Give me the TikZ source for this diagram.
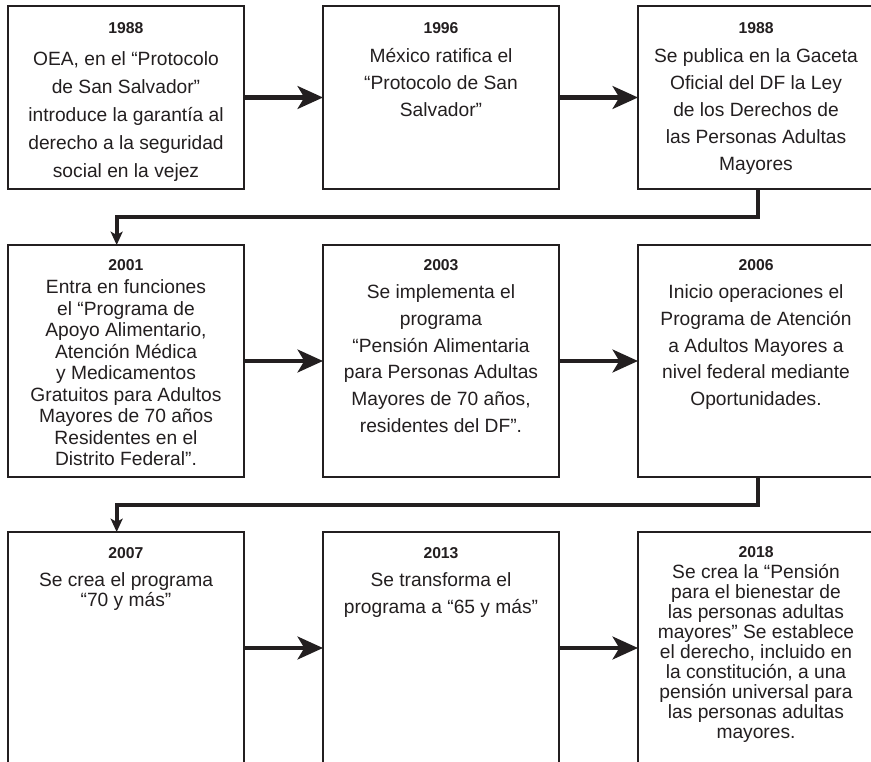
\documentclass[tikz,border=0pt]{standalone}
\usepackage{fontspec}
\setmainfont{Liberation Sans}
\usetikzlibrary{arrows.meta,positioning}
\definecolor{inkGray}{RGB}{35,31,32}
\setlength{\lineskiplimit}{-20pt}
\tikzset{
  evbox/.style={draw=inkGray,line width=2.2pt,outer sep=0pt,inner sep=0pt,
                minimum width=177pt,minimum height=#1},
  evtext/.style={anchor=north,align=center,inner sep=0pt,text=inkGray,
                 font=\fontsize{14.4pt}{#1}\selectfont},
  arr/.style={-{Stealth[length=19pt,width=17pt,inset=5pt]},line width=3.4pt,inkGray},
  link/.style={-{Stealth[length=10pt,width=9pt,inset=2.5pt]},line width=3.2pt,inkGray},
}
\newcommand{\evyear}[1]{{\fontsize{11.8pt}{12pt}\selectfont\bfseries #1}}
\begin{document}
\begin{tikzpicture}
  \fill[white] (-6pt,4.5pt) rectangle (647.25pt,-567pt);
  \path[use as bounding box,clip] (-6pt,4.5pt) rectangle (647.25pt,-567pt);
  % boxes
  \node[evbox=137.25pt,anchor=north west] (b1) at (0,0) {};
  \node[evbox=137.25pt,right=59.25pt of b1] (b2) {};
  \node[evbox=137.25pt,right=59.25pt of b2] (b3) {};
  \node[evbox=174pt,below=42pt of b1]       (b4) {};
  \node[evbox=174pt,right=59.25pt of b4]    (b5) {};
  \node[evbox=174pt,right=59.25pt of b5]    (b6) {};
  \node[evbox=174pt,below=41.25pt of b4]    (b7) {};
  \node[evbox=174pt,right=59.25pt of b7]    (b8) {};
  \node[evbox=174pt,right=59.25pt of b8]    (b9) {};
  % texts
  \node[evtext=21pt,below=12.4pt of b1.north] (t1) {\evyear{1988}\\[2.5pt]
    OEA, en el “Protocolo\\ de San Salvador”\\ introduce la garantía al\\
    derecho a la seguridad\\ social en la vejez};
  \node[evtext=20.25pt,below=12.4pt of b2.north] (t2) {\evyear{1996}\\[1pt]
    México ratifica el\\ “Protocolo de San\\ Salvador”};
  \node[evtext=20.25pt,below=12.4pt of b3.north] (t3) {\evyear{1988}\\[1pt]
    Se publica en la Gaceta\\ Oficial del DF la Ley\\ de los Derechos de\\
    las Personas Adultas\\ Mayores};
  \node[evtext=16.1pt,below=10.9pt of b4.north] (t4) {\evyear{2001}\\[1.2pt]
    Entra en funciones\\ el “Programa de\\ Apoyo Alimentario,\\ Atención Médica\\
    y Medicamentos\\ Gratuitos para Adultos\\ Mayores de 70 años\\
    Residentes en el\\ Distrito Federal”.};
  \node[evtext=20pt,below=10.9pt of b5.north] (t5) {\evyear{2003}\\[1pt]
    Se implementa el\\ programa\\ “Pensión Alimentaria\\ para Personas Adultas\\
    Mayores de 70 años,\\ residentes del DF”.};
  \node[evtext=20pt,below=10.9pt of b6.north] (t6) {\evyear{2006}\\[1pt]
    Inicio operaciones el\\ Programa de Atención\\ a Adultos Mayores a\\
    nivel federal mediante\\ Oportunidades.};
  \node[evtext=15pt,below=11.6pt of b7.north] (t7) {\evyear{2007}\\[6pt]
    Se crea el programa\\ “70 y más”};
  \node[evtext=20pt,below=11.6pt of b8.north] (t8) {\evyear{2013}\\[1pt]
    Se transforma el\\ programa a “65 y más”};
  \node[evtext=15pt,below=10.6pt of b9.north] (t9) {\evyear{2018}\\[1pt]
    Se crea la “Pensión\\ para el bienestar de\\ las personas adultas\\
    mayores” Se establece\\ el derecho, incluido en\\ la constitución, a una\\
    pensión universal para\\ las personas adultas\\ mayores.};
  % arrows
  \foreach \a/\b in {b1/b2,b2/b3,b4/b5,b5/b6,b7/b8,b8/b9}
    \draw[arr] (\a.east)--(\b.west);
  \draw[link] ([xshift=1.7pt]b3.south) -- ++(0,-21pt) -| ([xshift=-7pt]b4.north);
  \draw[link] ([xshift=1.7pt]b6.south) -- ++(0,-21pt) -| ([xshift=-7pt]b7.north);
\end{tikzpicture}
\end{document}
